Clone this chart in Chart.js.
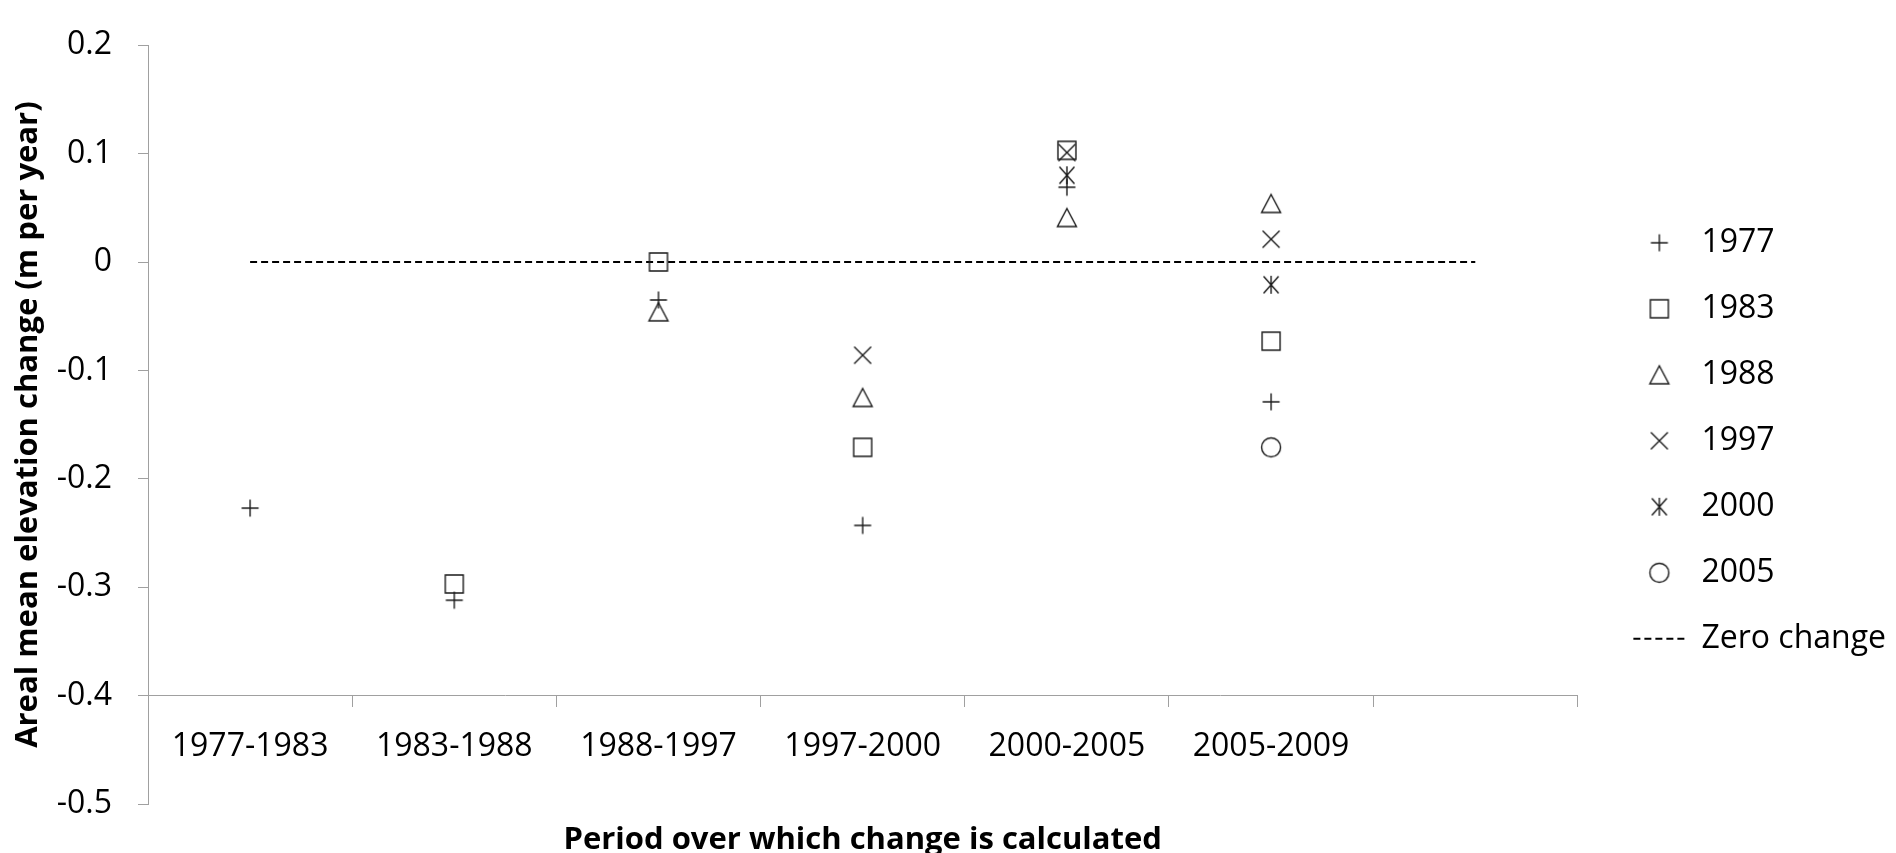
<!DOCTYPE html>
<html>
<head>
<meta charset="utf-8">
<script src="https://cdn.jsdelivr.net/npm/chart.js@4/dist/chart.umd.min.js"></script>
<style>
  html, body { margin: 0; padding: 0; background: #ffffff; }
  #wrap { width: 1896px; height: 853px; }
</style>
</head>
<body>
<div id="wrap"><canvas id="c" width="1896" height="853"></canvas></div>
<script>
// ---- data ----
const categories = ['1977-1983', '1983-1988', '1988-1997', '1997-2000', '2000-2005', '2005-2009', ''];
const s1977 = [-0.227, -0.312, -0.035, -0.243, 0.069, -0.129, null];
const s1983 = [null, -0.297, 0.0, -0.171, 0.103, -0.073, null];
const s1988 = [null, null, -0.046, -0.125, 0.041, 0.054, null];
const s1997 = [null, null, null, -0.086, 0.101, 0.021, null];
const s2000 = [null, null, null, null, 0.080, -0.021, null];
const s2005 = [null, null, null, null, null, -0.171, null];
const zeroLine = [0, 0, 0, 0, 0, 0, 0];
const seriesLabels = ['1977', '1983', '1988', '1997', '2000', '2005', 'Zero change'];
const yMin = -0.5, yMax = 0.2, yStep = 0.1;
const xTitle = 'Period over which change is calculated';
const yTitle = 'Areal mean elevation change (m per year)';

// ---- styles ----
const AXIS = '#a0a0a0';
const INK = '#1a1a1a';
const FONT = "'Open Sans', 'Noto Sans', sans-serif";

function marker(kind) {
  const S = 26, c = S / 2;
  const cv = document.createElement('canvas');
  cv.width = S; cv.height = S;
  const g = cv.getContext('2d');
  g.strokeStyle = INK;
  g.lineWidth = 1.4;
  g.beginPath();
  switch (kind) {
    case 'plus':
      g.moveTo(c - 8.5, c); g.lineTo(c + 8.5, c);
      g.moveTo(c, c - 8.5); g.lineTo(c, c + 8.5);
      break;
    case 'square':
      g.rect(c - 9, c - 9, 18, 18);
      break;
    case 'triangle':
      g.moveTo(c, c - 9); g.lineTo(c + 9.5, c + 9); g.lineTo(c - 9.5, c + 9); g.closePath();
      break;
    case 'x':
      g.moveTo(c - 8.5, c - 8.5); g.lineTo(c + 8.5, c + 8.5);
      g.moveTo(c + 8.5, c - 8.5); g.lineTo(c - 8.5, c + 8.5);
      break;
    case 'star':
      g.moveTo(c - 7.5, c - 8.5); g.lineTo(c + 7.5, c + 8.5);
      g.moveTo(c + 7.5, c - 8.5); g.lineTo(c - 7.5, c + 8.5);
      g.moveTo(c, c - 9); g.lineTo(c, c + 9);
      break;
    case 'circle':
      g.ellipse(c, c, 9.5, 9.5, 0, 0, Math.PI * 2);
      break;
  }
  g.stroke();
  return cv;
}

function pointSet(label, data, kind) {
  return {
    type: 'line', label, data, yAxisID: 'y', xAxisID: 'x',
    showLine: false, pointStyle: marker(kind), pointRadius: 10,
    borderColor: INK, backgroundColor: 'transparent'
  };
}

const datasets = [
  pointSet(seriesLabels[0], s1977, 'plus'),
  pointSet(seriesLabels[1], s1983, 'square'),
  pointSet(seriesLabels[2], s1988, 'triangle'),
  pointSet(seriesLabels[3], s1997, 'x'),
  pointSet(seriesLabels[4], s2000, 'star'),
  pointSet(seriesLabels[5], s2005, 'circle'),
  {
    type: 'line', label: seriesLabels[6], data: zeroLine, yAxisID: 'y', xAxisID: 'x',
    borderColor: '#000', borderWidth: 2, borderDash: [7, 4], pointRadius: 0,
    pointStyle: 'line', fill: false, tension: 0
  }
];

Chart.defaults.font.family = FONT;
Chart.defaults.color = '#000';

new Chart(document.getElementById('c'), {
  type: 'line',
  data: { labels: categories, datasets },
  options: {
    responsive: false,
    devicePixelRatio: 1,
    animation: false,
    events: [],
    layout: { padding: { top: 20, bottom: 49, left: 0, right: 0 } },
    plugins: {
      tooltip: { enabled: false },
      legend: {
        display: true,
        position: 'right',
        align: 'center',
        title: { display: true, text: ' ', padding: 0, font: { size: 48 } },
        labels: {
          usePointStyle: true,
          pointStyleWidth: 52,
          padding: 34,
          color: '#000',
          font: { size: 32, family: FONT },
          generateLabels(chart) {
            const items = Chart.defaults.plugins.legend.labels.generateLabels(chart);
            items.forEach(it => {
              const ds = chart.data.datasets[it.datasetIndex];
              if (ds.pointStyle === 'line') {
                it.lineDash = ds.borderDash;
                it.lineWidth = ds.borderWidth;
                it.strokeStyle = ds.borderColor;
              }
            });
            return items;
          }
        }
      }
    },
    scales: {
      x: {
        type: 'category',
        offset: true,
        position: { y: -0.4 },
        grid: { display: true, offset: true, drawOnChartArea: false, drawTicks: true, tickLength: 11, color: AXIS, lineWidth: 1 },
        border: { display: true, color: AXIS, width: 1 },
        ticks: { autoSkip: false, maxRotation: 0, minRotation: 0, padding: 21, color: '#000', font: { size: 32 } },
        title: { display: true, text: xTitle, color: '#000', padding: 0, font: { size: 31, weight: 'bold' } },
        afterFit(s) { s.height = 163; }
      },
      y: {
        type: 'linear',
        position: 'left',
        min: yMin, max: yMax,
        grid: { display: true, drawOnChartArea: false, drawTicks: true, tickLength: 10, color: AXIS, lineWidth: 1 },
        border: { display: true, color: AXIS, width: 1 },
        ticks: {
          stepSize: yStep, padding: 26, color: '#000', font: { size: 32 },
          callback: v => (Math.abs(v) < 1e-9 ? '0' : v.toFixed(1))
        },
        title: { display: true, text: yTitle, color: '#000', padding: { top: 10, bottom: 0 }, font: { size: 31, weight: 'bold' } },
        afterFit(s) { s.width = 148; }
      },
      yR: {
        type: 'linear',
        position: 'right',
        display: true,
        grid: { display: false },
        border: { display: false },
        ticks: { display: false },
        afterFit(s) { s.width = 22; }
      }
    }
  }
});
</script>
</body>
</html>
